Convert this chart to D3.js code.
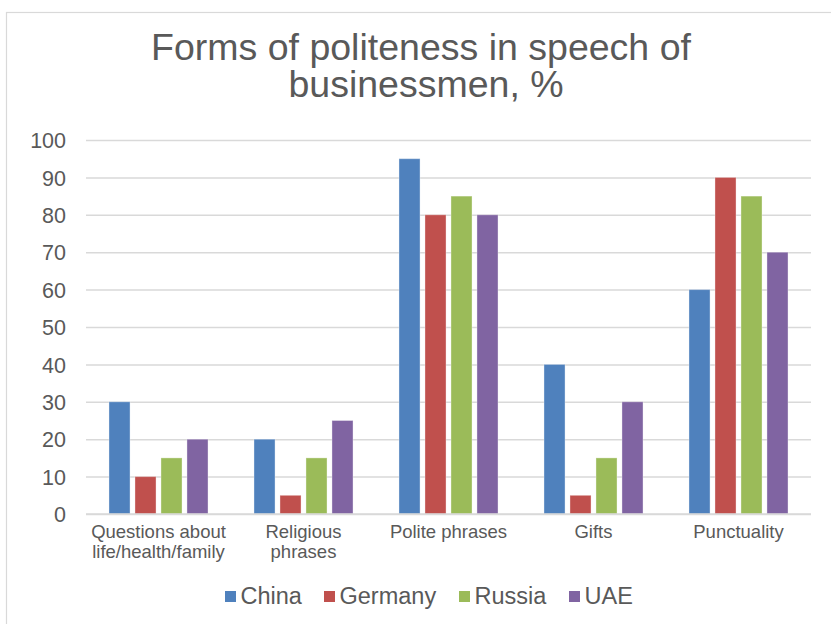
<!DOCTYPE html>
<html>
<head>
<meta charset="utf-8">
<script src="https://cdn.jsdelivr.net/npm/d3@7"></script>
<style>
  body { margin: 0; background: #fff; }
  svg { display: block; font-family: "Liberation Sans", Arial, sans-serif; }
  text { fill: #595959; }
</style>
</head>
<body>
<svg class="chart" width="831" height="624"></svg>
<script>
// dados do gráfico
const categories = [
  ["Questions about", "life/health/family"],
  ["Religious", "phrases"],
  ["Polite phrases"],
  ["Gifts"],
  ["Punctuality"]
];
const series = ["China", "Germany", "Russia", "UAE"];
const china   = [30, 20, 95, 40, 60];
const germany = [10, 5, 80, 5, 90];
const russia  = [15, 15, 85, 15, 85];
const uae     = [20, 25, 80, 30, 70];
const yTicks = [0, 10, 20, 30, 40, 50, 60, 70, 80, 90, 100];

const colors = {
  "China": "#4F81BD",
  "Germany": "#C0504D",
  "Russia": "#9BBB59",
  "UAE": "#8064A2"
};

const values = [china, germany, russia, uae];

const svg = d3.select('svg.chart');

// moldura do gráfico (a direita e embaixo ficam fora da imagem)
svg.append('rect')
  .attr('x', 6.5).attr('y', 12.5)
  .attr('width', 840).attr('height', 640)
  .attr('fill', '#fff')
  .attr('stroke', '#d9d9d9')
  .attr('stroke-width', 1.2);

// título
const title = svg.append('text')
  .attr('text-anchor', 'middle')
  .attr('font-size', 37.5);
title.append('tspan').attr('x', 421).attr('y', 60).text('Forms of politeness in speech of');
title.append('tspan').attr('x', 426).attr('y', 97).text('businessmen, %');

// escalas
const plotLeft = 86, plotRight = 811, plotTop = 140, plotBottom = 514;

const x0 = d3.scaleBand()
  .domain(d3.range(categories.length))
  .range([plotLeft, plotRight])
  .paddingInner(0.317)
  .paddingOuter(0.1585);

const x1 = d3.scaleBand()
  .domain(series)
  .range([0, x0.bandwidth()])
  .paddingInner(0.19);

const y = d3.scaleLinear()
  .domain([0, 100])
  .range([plotBottom, plotTop]);

// linhas de grade
const yAxis = svg.append('g')
  .attr('transform', `translate(${plotLeft},0)`)
  .call(d3.axisLeft(y).tickValues(yTicks).tickSize(-(plotRight - plotLeft)).tickPadding(20));
yAxis.select('.domain').remove();
yAxis.selectAll('.tick line')
  .attr('stroke', '#d9d9d9')
  .attr('stroke-width', 1.5);
yAxis.selectAll('.tick text')
  .attr('font-size', 21.5)
  .attr('font-family', '"Liberation Sans", Arial, sans-serif')
  .attr('fill', '#595959')
  .attr('dy', '0.36em');

// barras
const groups = svg.append('g')
  .selectAll('g.grupo')
  .data(categories)
  .join('g')
  .classed('grupo', true)
  .attr('transform', (d, i) => `translate(${x0(i)},0)`);

groups.selectAll('rect')
  .data((d, i) => series.map((s, k) => ({ s: s, v: values[k][i] })))
  .join('rect')
  .attr('x', d => x1(d.s))
  .attr('y', d => y(d.v))
  .attr('width', x1.bandwidth())
  .attr('height', d => y(0) - y(d.v))
  .attr('fill', d => colors[d.s])
  .attr('stroke', 'rgba(255,255,255,0.35)')
  .attr('stroke-width', 1);

// eixo x
svg.append('line')
  .attr('x1', plotLeft).attr('x2', plotRight)
  .attr('y1', plotBottom).attr('y2', plotBottom)
  .attr('stroke', '#d9d9d9')
  .attr('stroke-width', 1.5);

const catLabels = svg.append('g')
  .selectAll('text')
  .data(categories)
  .join('text')
  .attr('text-anchor', 'middle')
  .attr('font-size', 18.5);
catLabels.selectAll('tspan')
  .data((d, i) => d.map(t => ({ t: t, i: i })))
  .join('tspan')
  .attr('x', d => x0(d.i) + x0.bandwidth() / 2)
  .attr('y', (d, j) => 538 + j * 19.5)
  .text(d => d.t);

// legenda
const legX = [225, 324, 459, 569];
const leg = svg.append('g')
  .selectAll('g')
  .data(series)
  .join('g')
  .attr('transform', (d, i) => `translate(${legX[i]},0)`);
leg.append('rect')
  .attr('x', 0).attr('y', 591)
  .attr('width', 11).attr('height', 11)
  .attr('fill', d => colors[d]);
leg.append('text')
  .attr('x', 15.5).attr('y', 604)
  .attr('font-size', 23.5)
  .text(d => d);
</script>
</body>
</html>
